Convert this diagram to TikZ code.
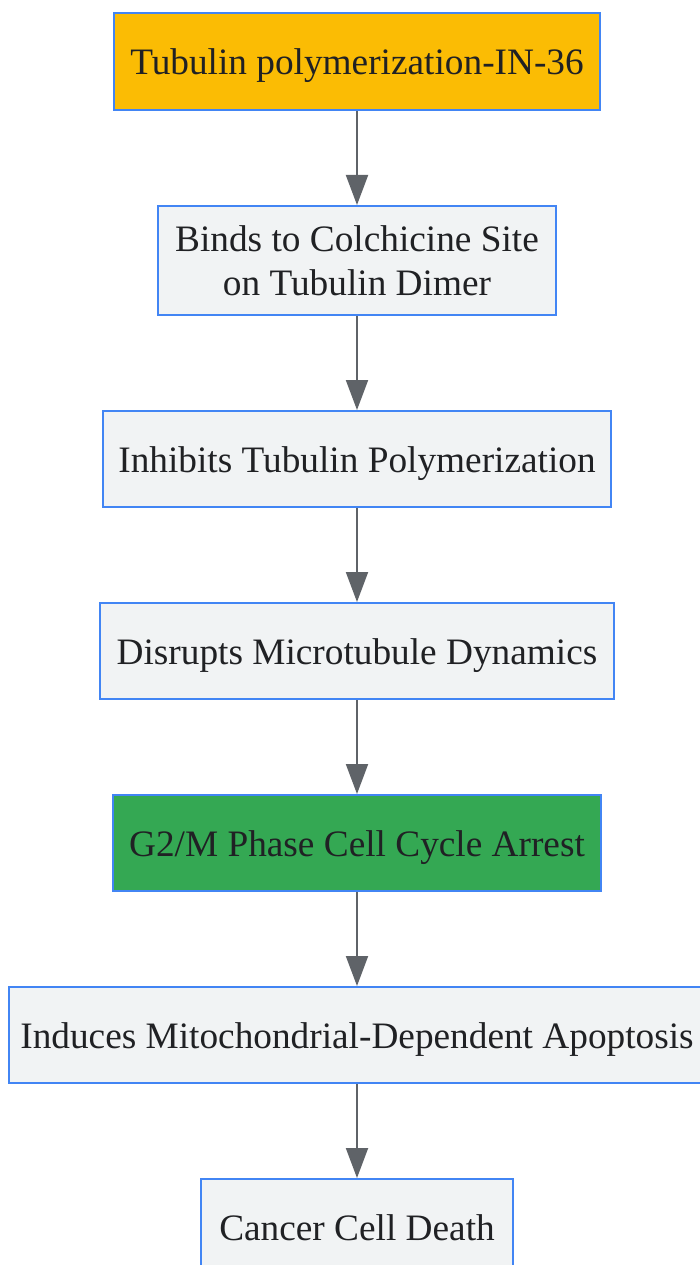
\documentclass[tikz,border=0pt]{standalone}
\usepackage{fontspec}
\setmainfont{Liberation Serif}
\usetikzlibrary{arrows.meta}
\definecolor{bord}{HTML}{4285F4}
\definecolor{boxgray}{HTML}{F1F3F4}
\definecolor{boxyellow}{HTML}{FBBC04}
\definecolor{boxgreen}{HTML}{34A853}
\definecolor{edge}{HTML}{5F6368}
\definecolor{txt}{HTML}{202124}
\tikzset{
  stepbox/.style={draw=bord, line width=2pt, fill=boxgray, text=txt, inner sep=0pt,
    font=\fontsize{37.3}{44}\selectfont, align=center, minimum height=96pt},
  oneline/.style={stepbox, text height=35pt, text depth=8pt},
  flow/.style={draw=edge, line width=2pt, -{Triangle[length=30pt,width=22pt]}}
}
\begin{document}
\begin{tikzpicture}[x=1pt,y=1pt]
\useasboundingbox (0,0) rectangle (699,-1265);
\node[oneline, fill=boxyellow, minimum width=486pt, minimum height=97pt] (n1) at (357,-61.5) {Tubulin polymerization-IN-36};
\node[stepbox, minimum width=398pt, minimum height=109pt] (n2) at (357,-260.5) {Binds to Colchicine Site\\on Tubulin Dimer};
\node[oneline, minimum width=508pt] (n3) at (357,-459) {Inhibits Tubulin Polymerization};
\node[oneline, minimum width=514pt] (n4) at (357,-651) {Disrupts Microtubule Dynamics};
\node[oneline, fill=boxgreen, minimum width=488pt] (n5) at (357,-843) {G2/M Phase Cell Cycle Arrest};
\node[oneline, minimum width=696pt] (n6) at (357,-1035) {Induces Mitochondrial-Dependent Apoptosis};
\node[oneline, minimum width=312pt] (n7) at (357,-1227) {Cancer Cell Death};
\draw[flow] (n1) -- (n2);
\draw[flow] (n2) -- (n3);
\draw[flow] (n3) -- (n4);
\draw[flow] (n4) -- (n5);
\draw[flow] (n5) -- (n6);
\draw[flow] (n6) -- (n7);
\end{tikzpicture}
\end{document}
